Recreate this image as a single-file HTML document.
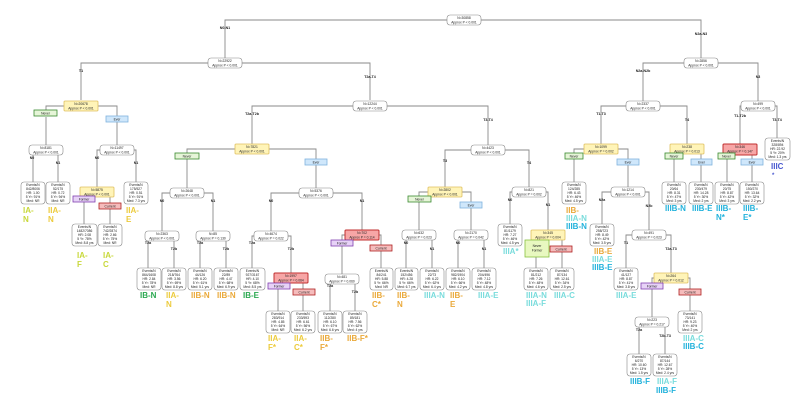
<!DOCTYPE html>
<html><head><meta charset="utf-8"><style>
html,body{margin:0;padding:0;background:#fff}
svg{display:block}
text{font-family:"Liberation Sans",sans-serif;fill:#222}
.e{fill:none;stroke:#8a8a8a;stroke-width:0.9}
.n{fill:#fff;stroke:#888;stroke-width:0.6}
.y{fill:#fff4b8;stroke:#e0c060;stroke-width:0.8}
.r{fill:#f7a6a6;stroke:#c03030;stroke-width:1}
.g{fill:#e6f5d8;stroke:#3a8a30;stroke-width:0.8}
.b{fill:#cfe7fb;stroke:#80b4de;stroke-width:0.8}
.p{fill:#e7d2f7;stroke:#8040b0;stroke-width:0.8}
.c{fill:#f5bcbc;stroke:#b02020;stroke-width:0.8}
.t{font-size:3.3px;text-anchor:middle}
.el{font-size:3.6px;font-weight:bold;text-anchor:middle}
.s{font-size:8px;font-weight:bold}
.IA{fill:#c8d83a}.IIA{fill:#eccb3c}.IIB{fill:#eaa93a}.IB{fill:#2aa850}.IIIA{fill:#79dcdc}.IIIB{fill:#22b2dc}.IIIC{fill:#4a5ad0}
</style></head><body>
<svg width="800" height="400" viewBox="0 0 800 400" xmlns="http://www.w3.org/2000/svg">
<!-- edges -->
<g class="e">
<path d="M225 58V20H701V58"/>
<path d="M81 100V63H370V100"/>
<path d="M46 110V106H117V116M46 117V145M117 122V145"/>
<path d="M33 182V150H58V182"/>
<path d="M97 187V150H136V182"/>
<path d="M84 224V192H110V224"/>
<path d="M252 144V106H488V145"/>
<path d="M187 188V149H316V188"/>
<path d="M162 231V193H213V231"/>
<path d="M148 268V235H174V268"/>
<path d="M200 268V236H226V268"/>
<path d="M271 231V193H362V230"/>
<path d="M252 268V236H291V273"/>
<path d="M278 311V278H303V311"/>
<path d="M342 274V235H381V268"/>
<path d="M330 311V278H355V311"/>
<path d="M445 187V150H529V187"/>
<path d="M419 231V192H471V231"/>
<path d="M406 268V235H432V268"/>
<path d="M458 268V235H484V268"/>
<path d="M510 224V192H548V231"/>
<path d="M536 268V235H562V268"/>
<path d="M643 101V63H758V101"/>
<path d="M601 144V106H687V144"/>
<path d="M574 182V149H628V187"/>
<path d="M602 224V192H649V230"/>
<path d="M626 268V235H671V273"/>
<path d="M652 317V278H690V311"/>
<path d="M639 354V322H665V354"/>
<path d="M674 182V149H701V182"/>
<path d="M740 144V106H777V138"/>
<path d="M727 182V149H752V182"/>
</g>
<!-- edge labels -->
<g class="el">
<text x="225" y="29">N0-N1</text><text x="701" y="35">N2a-N3</text>
<text x="81" y="72">T1</text><text x="370" y="78">T2a-T4</text>
<text x="32" y="159">N0</text><text x="58" y="164">N1</text>
<text x="97" y="159">N0</text><text x="136" y="164">N1</text>
<text x="252" y="115">T2a-T2b</text><text x="488" y="121">T3-T4</text>
<text x="162" y="202">N0</text><text x="213" y="202">N1</text>
<text x="148" y="244">T2a</text><text x="174" y="250">T2b</text>
<text x="200" y="244">T2a</text><text x="226" y="250">T2b</text>
<text x="271" y="202">N0</text><text x="362" y="202">N1</text>
<text x="252" y="244">T2a</text><text x="291" y="250">T2b</text>
<text x="330" y="287">T2a</text><text x="355" y="293">T2b</text>
<text x="445" y="162">T3</text><text x="529" y="164">T4</text>
<text x="406" y="244">N0</text><text x="432" y="250">N1</text>
<text x="458" y="244">N0</text><text x="484" y="250">N1</text>
<text x="510" y="201">N0</text><text x="548" y="206">N1</text>
<text x="643" y="72">N2a-N2b</text><text x="758" y="78">N3</text>
<text x="601" y="115">T1-T3</text><text x="687" y="121">T4</text>
<text x="602" y="201">N2a</text><text x="649" y="207">N2b</text>
<text x="626" y="244">T1</text><text x="671" y="250">T2a-T3</text>
<text x="639" y="331">T2a</text><text x="665" y="337">T2b-T3</text>
<text x="740" y="117">T1-T2b</text><text x="777" y="121">T3-T4</text>
</g>
<!-- internal nodes -->
<g>
<rect class="n" x="447" y="15" width="34" height="10" rx="3"/><text class="t" x="464" y="19">N=30858</text><text class="t" x="464" y="23.3">Approx P &lt; 0.001</text>
<rect class="n" x="208" y="58" width="34" height="10" rx="3"/><text class="t" x="225" y="62">N=22922</text><text class="t" x="225" y="66.3">Approx P &lt; 0.001</text>
<rect class="y" x="64" y="101" width="34" height="10" rx="1"/><text class="t" x="81" y="105">N=20678</text><text class="t" x="81" y="109.3">Approx P &lt; 0.001</text>
<rect class="n" x="29" y="145" width="34" height="10" rx="3"/><text class="t" x="46" y="149">N=8181</text><text class="t" x="46" y="153.3">Approx P &lt; 0.001</text>
<rect class="n" x="100" y="145" width="34" height="10" rx="3"/><text class="t" x="117" y="149">N=11497</text><text class="t" x="117" y="153.3">Approx P &lt; 0.001</text>
<rect class="y" x="80" y="187" width="34" height="10" rx="1"/><text class="t" x="97" y="191">N=5875</text><text class="t" x="97" y="195.3">Approx P &lt; 0.001</text>
<rect class="n" x="353" y="101" width="34" height="10" rx="3"/><text class="t" x="370" y="105">N=12244</text><text class="t" x="370" y="109.3">Approx P &lt; 0.001</text>
<rect class="y" x="235" y="144" width="34" height="10" rx="1"/><text class="t" x="252" y="148">N=7821</text><text class="t" x="252" y="152.3">Approx P &lt; 0.001</text>
<rect class="n" x="170" y="188" width="34" height="10" rx="3"/><text class="t" x="187" y="192">N=2648</text><text class="t" x="187" y="196.3">Approx P &lt; 0.001</text>
<rect class="n" x="299" y="188" width="34" height="10" rx="3"/><text class="t" x="316" y="192">N=5376</text><text class="t" x="316" y="196.3">Approx P &lt; 0.001</text>
<rect class="n" x="145" y="231" width="34" height="10" rx="3"/><text class="t" x="162" y="235">N=2363</text><text class="t" x="162" y="239.3">Approx P &lt; 0.001</text>
<rect class="n" x="196" y="231" width="34" height="10" rx="3"/><text class="t" x="213" y="235">N=85</text><text class="t" x="213" y="239.3">Approx P = 0.130</text>
<rect class="n" x="254" y="231" width="34" height="10" rx="3"/><text class="t" x="271" y="235">N=4674</text><text class="t" x="271" y="239.3">Approx P = 0.022</text>
<rect class="r" x="345" y="230" width="34" height="10" rx="1"/><text class="t" x="362" y="234">N=702</text><text class="t" x="362" y="238.3">Approx P = 0.114</text>
<rect class="r" x="274" y="273" width="34" height="10" rx="1"/><text class="t" x="291" y="277">N=1997</text><text class="t" x="291" y="281.3">Approx P = 0.064</text>
<rect class="n" x="325" y="274" width="34" height="10" rx="3"/><text class="t" x="342" y="278">N=481</text><text class="t" x="342" y="282.3">Approx P = 0.060</text>
<rect class="n" x="471" y="145" width="34" height="10" rx="3"/><text class="t" x="488" y="149">N=4423</text><text class="t" x="488" y="153.3">Approx P &lt; 0.001</text>
<rect class="y" x="428" y="187" width="34" height="10" rx="1"/><text class="t" x="445" y="191">N=2802</text><text class="t" x="445" y="195.3">Approx P &lt; 0.001</text>
<rect class="n" x="512" y="187" width="34" height="10" rx="3"/><text class="t" x="529" y="191">N=821</text><text class="t" x="529" y="195.3">Approx P = 0.002</text>
<rect class="n" x="402" y="230" width="34" height="10" rx="3"/><text class="t" x="419" y="234">N=632</text><text class="t" x="419" y="238.3">Approx P = 0.023</text>
<rect class="n" x="454" y="230" width="34" height="10" rx="3"/><text class="t" x="471" y="234">N=2170</text><text class="t" x="471" y="238.3">Approx P = 0.042</text>
<rect class="y" x="531" y="230" width="34" height="10" rx="1"/><text class="t" x="548" y="234">N=345</text><text class="t" x="548" y="238.3">Approx P = 0.004</text>
<rect class="n" x="684" y="58" width="34" height="10" rx="3"/><text class="t" x="701" y="62">N=2856</text><text class="t" x="701" y="66.3">Approx P &lt; 0.001</text>
<rect class="n" x="626" y="101" width="34" height="10" rx="3"/><text class="t" x="643" y="105">N=2337</text><text class="t" x="643" y="109.3">Approx P &lt; 0.001</text>
<rect class="n" x="741" y="101" width="34" height="10" rx="3"/><text class="t" x="758" y="105">N=499</text><text class="t" x="758" y="109.3">Approx P &lt; 0.001</text>
<rect class="y" x="584" y="144" width="34" height="10" rx="1"/><text class="t" x="601" y="148">N=1099</text><text class="t" x="601" y="152.3">Approx P = 0.002</text>
<rect class="y" x="670" y="144" width="34" height="10" rx="1"/><text class="t" x="687" y="148">N=238</text><text class="t" x="687" y="152.3">Approx P = 0.013</text>
<rect class="r" x="723" y="144" width="34" height="11" rx="1"/><text class="t" x="740" y="148">N=346</text><text class="t" x="740" y="152.3">Approx P = 0.147</text>
<rect class="n" x="611" y="187" width="34" height="10" rx="3"/><text class="t" x="628" y="191">N=1214</text><text class="t" x="628" y="195.3">Approx P &lt; 0.001</text>
<rect class="n" x="632" y="230" width="34" height="10" rx="3"/><text class="t" x="649" y="234">N=491</text><text class="t" x="649" y="238.3">Approx P = 0.023</text>
<rect class="y" x="654" y="273" width="34" height="10" rx="1"/><text class="t" x="671" y="277">N=264</text><text class="t" x="671" y="281.3">Approx P = 0.012</text>
<rect class="n" x="635" y="317" width="34" height="10" rx="3"/><text class="t" x="652" y="321">N=223</text><text class="t" x="652" y="325.3">Approx P = 0.217</text>
</g>
<!-- tags -->
<g>
<rect class="g" x="34" y="110" width="23" height="6"/><text class="t" x="45.5" y="114.3">Never</text>
<rect class="b" x="106" y="116" width="22" height="6"/><text class="t" x="117" y="120.3">Ever</text>
<rect class="p" x="73" y="196" width="22" height="6"/><text class="t" x="84" y="200.3">Former</text>
<rect class="c" x="99" y="203" width="22" height="6"/><text class="t" x="110" y="207.3">Current</text>
<rect class="g" x="175" y="153" width="24" height="6"/><text class="t" x="187" y="157.3">Never</text>
<rect class="b" x="305" y="159" width="22" height="6"/><text class="t" x="316" y="163.3">Ever</text>
<rect class="p" x="268" y="283" width="22" height="6"/><text class="t" x="279" y="287.3">Former</text>
<rect class="c" x="293" y="289" width="22" height="6"/><text class="t" x="304" y="293.3">Current</text>
<rect class="p" x="331" y="240" width="22" height="6"/><text class="t" x="342" y="244.3">Former</text>
<rect class="c" x="370" y="245" width="22" height="6"/><text class="t" x="381" y="249.3">Current</text>
<rect class="g" x="408" y="196" width="23" height="6"/><text class="t" x="419.5" y="200.3">Never</text>
<rect class="b" x="460" y="202" width="22" height="6"/><text class="t" x="471" y="206.3">Ever</text>
<rect class="g" x="525" y="240" width="24" height="17" style="fill:#e8f8c0;stroke:#88c040"/><text class="t" x="537" y="247">Never</text><text class="t" x="537" y="251.5">Former</text>
<rect class="c" x="550" y="246" width="22" height="6"/><text class="t" x="561" y="250.3">Current</text>
<rect class="g" x="565" y="153" width="18" height="6"/><text class="t" x="574" y="157.3">Never</text>
<rect class="b" x="617" y="159" width="22" height="6"/><text class="t" x="628" y="163.3">Ever</text>
<rect class="g" x="665" y="153" width="18" height="6"/><text class="t" x="674" y="157.3">Never</text>
<rect class="b" x="691" y="159" width="21" height="6"/><text class="t" x="701.5" y="163.3">Ever</text>
<rect class="g" x="718" y="153" width="17" height="6"/><text class="t" x="726.5" y="157.3">Never</text>
<rect class="b" x="741" y="159" width="22" height="6"/><text class="t" x="752" y="163.3">Ever</text>
<rect class="p" x="641" y="283" width="22" height="6"/><text class="t" x="652" y="287.3">Former</text>
<rect class="c" x="679" y="289" width="22" height="6"/><text class="t" x="690" y="293.3">Current</text>
</g>
<!-- leaves -->
<g>
<rect class="n" x="21" y="182" width="24" height="22" rx="3"/><text class="t" x="33" y="186">Events/N</text><text class="t" x="33" y="190">842/8006</text><text class="t" x="33" y="194">HR: 1.00</text><text class="t" x="33" y="198">5 Yr: 91%</text><text class="t" x="33" y="202">Med: NR</text>
<rect class="n" x="46" y="182" width="24" height="22" rx="3"/><text class="t" x="58" y="186">Events/N</text><text class="t" x="58" y="190">52/175</text><text class="t" x="58" y="194">HR: 0.72</text><text class="t" x="58" y="198">5 Yr: 94%</text><text class="t" x="58" y="202">Med: NR</text>
<rect class="n" x="124" y="182" width="24" height="22" rx="3"/><text class="t" x="136" y="186">Events/N</text><text class="t" x="136" y="190">175/527</text><text class="t" x="136" y="194">HR: 0.51</text><text class="t" x="136" y="198">5 Yr: 91%</text><text class="t" x="136" y="202">Med: 7.3 yrs</text>
<rect class="n" x="72" y="224" width="25" height="22" rx="3"/><text class="t" x="84.5" y="228">Events/N</text><text class="t" x="84.5" y="232">1482/7086</text><text class="t" x="84.5" y="236">HR: 2.08</text><text class="t" x="84.5" y="240">5 Yr: 78%</text><text class="t" x="84.5" y="244">Med: 8.8 yrs</text>
<rect class="n" x="98" y="224" width="24" height="22" rx="3"/><text class="t" x="110" y="228">Events/N</text><text class="t" x="110" y="232">742/2874</text><text class="t" x="110" y="236">HR: 2.66</text><text class="t" x="110" y="240">5 Yr: 75%</text><text class="t" x="110" y="244">Med: NR</text>
<rect class="n" x="137" y="268" width="24" height="22" rx="3"/><text class="t" x="149" y="272">Events/N</text><text class="t" x="149" y="276">864/1608</text><text class="t" x="149" y="280">HR: 2.84</text><text class="t" x="149" y="284">5 Yr: 78%</text><text class="t" x="149" y="288">Med: NR</text>
<rect class="n" x="162" y="268" width="24" height="22" rx="3"/><text class="t" x="174" y="272">Events/N</text><text class="t" x="174" y="276">218/764</text><text class="t" x="174" y="280">HR: 3.56</text><text class="t" x="174" y="284">5 Yr: 69%</text><text class="t" x="174" y="288">Med: 8.8 yrs</text>
<rect class="n" x="188" y="268" width="24" height="22" rx="3"/><text class="t" x="200" y="272">Events/N</text><text class="t" x="200" y="276">44/126</text><text class="t" x="200" y="280">HR: 6.20</text><text class="t" x="200" y="284">5 Yr: 61%</text><text class="t" x="200" y="288">Med: 5.1 yrs</text>
<rect class="n" x="214" y="268" width="24" height="22" rx="3"/><text class="t" x="226" y="272">Events/N</text><text class="t" x="226" y="276">22/89</text><text class="t" x="226" y="280">HR: 4.47</text><text class="t" x="226" y="284">5 Yr: 68%</text><text class="t" x="226" y="288">Med: 6.9 yrs</text>
<rect class="n" x="240" y="268" width="25" height="22" rx="3"/><text class="t" x="252.5" y="272">Events/N</text><text class="t" x="252.5" y="276">927/3167</text><text class="t" x="252.5" y="280">HR: 4.10</text><text class="t" x="252.5" y="284">5 Yr: 68%</text><text class="t" x="252.5" y="288">Med: 8.5 yrs</text>
<rect class="n" x="266" y="311" width="24" height="22" rx="3"/><text class="t" x="278" y="315">Events/N</text><text class="t" x="278" y="319">283/914</text><text class="t" x="278" y="323">HR: 4.85</text><text class="t" x="278" y="327">5 Yr: 64%</text><text class="t" x="278" y="331">Med: NR</text>
<rect class="n" x="291" y="311" width="24" height="22" rx="3"/><text class="t" x="303" y="315">Events/N</text><text class="t" x="303" y="319">233/593</text><text class="t" x="303" y="323">HR: 6.61</text><text class="t" x="303" y="327">5 Yr: 56%</text><text class="t" x="303" y="331">Med: 6.2 yrs</text>
<rect class="n" x="318" y="311" width="24" height="22" rx="3"/><text class="t" x="330" y="315">Events/N</text><text class="t" x="330" y="319">112/280</text><text class="t" x="330" y="323">HR: 6.10</text><text class="t" x="330" y="327">5 Yr: 67%</text><text class="t" x="330" y="331">Med: 6.6 yrs</text>
<rect class="n" x="343" y="311" width="24" height="22" rx="3"/><text class="t" x="355" y="315">Events/N</text><text class="t" x="355" y="319">89/181</text><text class="t" x="355" y="323">HR: 7.56</text><text class="t" x="355" y="327">5 Yr: 62%</text><text class="t" x="355" y="331">Med: 4 yrs</text>
<rect class="n" x="370" y="268" width="23" height="22" rx="3"/><text class="t" x="381.5" y="272">Events/N</text><text class="t" x="381.5" y="276">84/241</text><text class="t" x="381.5" y="280">HR: 5.88</text><text class="t" x="381.5" y="284">5 Yr: 66%</text><text class="t" x="381.5" y="288">Med: NR</text>
<rect class="n" x="395" y="268" width="23" height="22" rx="3"/><text class="t" x="406.5" y="272">Events/N</text><text class="t" x="406.5" y="276">152/456</text><text class="t" x="406.5" y="280">HR: 4.28</text><text class="t" x="406.5" y="284">5 Yr: 66%</text><text class="t" x="406.5" y="288">Med: 6.7 yrs</text>
<rect class="n" x="420" y="268" width="24" height="22" rx="3"/><text class="t" x="432" y="272">Events/N</text><text class="t" x="432" y="276">22/73</text><text class="t" x="432" y="280">HR: 6.22</text><text class="t" x="432" y="284">5 Yr: 62%</text><text class="t" x="432" y="288">Med: 6.4 yrs</text>
<rect class="n" x="446" y="268" width="24" height="22" rx="3"/><text class="t" x="458" y="272">Events/N</text><text class="t" x="458" y="276">982/1904</text><text class="t" x="458" y="280">HR: 6.10</text><text class="t" x="458" y="284">5 Yr: 66%</text><text class="t" x="458" y="288">Med: 4.2 yrs</text>
<rect class="n" x="472" y="268" width="24" height="22" rx="3"/><text class="t" x="484" y="272">Events/N</text><text class="t" x="484" y="276">204/496</text><text class="t" x="484" y="280">HR: 7.12</text><text class="t" x="484" y="284">5 Yr: 48%</text><text class="t" x="484" y="288">Med: 4.8 yrs</text>
<rect class="n" x="498" y="224" width="24" height="22" rx="3"/><text class="t" x="510" y="228">Events/N</text><text class="t" x="510" y="232">81/1179</text><text class="t" x="510" y="236">HR: 7.27</text><text class="t" x="510" y="240">5 Yr: 46%</text><text class="t" x="510" y="244">Med: 4.5 yrs</text>
<rect class="n" x="524" y="268" width="24" height="22" rx="3"/><text class="t" x="536" y="272">Events/N</text><text class="t" x="536" y="276">81/212</text><text class="t" x="536" y="280">HR: 7.26</text><text class="t" x="536" y="284">5 Yr: 48%</text><text class="t" x="536" y="288">Med: 4.6 yrs</text>
<rect class="n" x="550" y="268" width="24" height="22" rx="3"/><text class="t" x="562" y="272">Events/N</text><text class="t" x="562" y="276">87/134</text><text class="t" x="562" y="280">HR: 12.61</text><text class="t" x="562" y="284">5 Yr: 34%</text><text class="t" x="562" y="288">Med: 2.5 yrs</text>
<rect class="n" x="562" y="182" width="24" height="22" rx="3"/><text class="t" x="574" y="186">Events/N</text><text class="t" x="574" y="190">124/285</text><text class="t" x="574" y="194">HR: 6.43</text><text class="t" x="574" y="198">5 Yr: 46%</text><text class="t" x="574" y="202">Med: 4.5 yrs</text>
<rect class="n" x="590" y="224" width="24" height="22" rx="3"/><text class="t" x="602" y="228">Events/N</text><text class="t" x="602" y="232">258/723</text><text class="t" x="602" y="236">HR: 8.49</text><text class="t" x="602" y="240">5 Yr: 42%</text><text class="t" x="602" y="244">Med: 3.5 yrs</text>
<rect class="n" x="614" y="268" width="24" height="22" rx="3"/><text class="t" x="626" y="272">Events/N</text><text class="t" x="626" y="276">41/127</text><text class="t" x="626" y="280">HR: 8.87</text><text class="t" x="626" y="284">5 Yr: 41%</text><text class="t" x="626" y="288">Med: 3.8 yrs</text>
<rect class="n" x="678" y="311" width="24" height="22" rx="3"/><text class="t" x="690" y="315">Events/N</text><text class="t" x="690" y="319">73/141</text><text class="t" x="690" y="323">HR: 9.23</text><text class="t" x="690" y="327">5 Yr: 40%</text><text class="t" x="690" y="331">Med: 2 yrs</text>
<rect class="n" x="627" y="354" width="24" height="22" rx="3"/><text class="t" x="639" y="358">Events/N</text><text class="t" x="639" y="362">6/270</text><text class="t" x="639" y="366">HR: 10.60</text><text class="t" x="639" y="370">5 Yr: 13%</text><text class="t" x="639" y="374">Med: 1.5 yrs</text>
<rect class="n" x="653" y="354" width="24" height="22" rx="3"/><text class="t" x="665" y="358">Events/N</text><text class="t" x="665" y="362">87/144</text><text class="t" x="665" y="366">HR: 12.67</text><text class="t" x="665" y="370">5 Yr: 28%</text><text class="t" x="665" y="374">Med: 2.4 yrs</text>
<rect class="n" x="662" y="182" width="24" height="22" rx="3"/><text class="t" x="674" y="186">Events/N</text><text class="t" x="674" y="190">20/64</text><text class="t" x="674" y="194">HR: 8.31</text><text class="t" x="674" y="198">5 Yr: 47%</text><text class="t" x="674" y="202">Med: 3 yrs</text>
<rect class="n" x="689" y="182" width="24" height="22" rx="3"/><text class="t" x="701" y="186">Events/N</text><text class="t" x="701" y="190">230/479</text><text class="t" x="701" y="194">HR: 14.28</text><text class="t" x="701" y="198">5 Yr: 30%</text><text class="t" x="701" y="202">Med: 2 yrs</text>
<rect class="n" x="715" y="182" width="24" height="22" rx="3"/><text class="t" x="727" y="186">Events/N</text><text class="t" x="727" y="190">20/75</text><text class="t" x="727" y="194">HR: 8.87</text><text class="t" x="727" y="198">5 Yr: 42%</text><text class="t" x="727" y="202">Med: 3 yrs</text>
<rect class="n" x="740" y="182" width="24" height="22" rx="3"/><text class="t" x="752" y="186">Events/N</text><text class="t" x="752" y="190">150/270</text><text class="t" x="752" y="194">HR: 13.64</text><text class="t" x="752" y="198">5 Yr: 32%</text><text class="t" x="752" y="202">Med: 2.2 yrs</text>
<rect class="n" x="765" y="138" width="25" height="22" rx="3"/><text class="t" x="777.5" y="142">Events/N</text><text class="t" x="777.5" y="146">328/894</text><text class="t" x="777.5" y="150">HR: 22.92</text><text class="t" x="777.5" y="154">5 Yr: 20%</text><text class="t" x="777.5" y="158">Med: 1.3 yrs</text>
</g>
<!-- stage labels -->
<g class="s">
<text class="IA" x="23" y="213">IA-</text><text class="IA" x="23" y="222">N</text>
<text class="IIA" x="48" y="213">IIA-</text><text class="IIA" x="48" y="222">N</text>
<text class="IIA" x="126" y="213">IIA-</text><text class="IIA" x="126" y="222">E</text>
<text class="IA" x="77" y="258">IA-</text><text class="IA" x="77" y="267">F</text>
<text class="IA" x="103" y="258">IA-</text><text class="IA" x="103" y="267">C</text>
<text class="IB" x="140" y="298">IB-N</text>
<text class="IIA" x="166" y="298">IIA-</text><text class="IIA" x="166" y="307">N</text>
<text class="IIB" x="191" y="298">IIB-N</text>
<text class="IIB" x="217" y="298">IIB-N</text>
<text class="IB" x="243" y="298">IB-E</text>
<text class="IIA" x="268" y="341">IIA-</text><text class="IIA" x="268" y="350">F*</text>
<text class="IIA" x="294" y="341">IIA-</text><text class="IIA" x="294" y="350">C*</text>
<text class="IIB" x="320" y="341">IIB-</text><text class="IIB" x="320" y="350">F*</text>
<text class="IIB" x="347" y="341">IIB-F*</text>
<text class="IIB" x="372" y="298">IIB-</text><text class="IIB" x="372" y="307">C*</text>
<text class="IIB" x="397" y="298">IIB-</text><text class="IIB" x="397" y="307">N</text>
<text class="IIIA" x="424" y="298">IIIA-N</text>
<text class="IIB" x="450" y="298">IIB-</text><text class="IIB" x="450" y="307">E</text>
<text class="IIIA" x="478" y="298">IIIA-E</text>
<text class="IIIA" x="503" y="254">IIIA*</text>
<text class="IIIA" x="526" y="298">IIIA-N</text><text class="IIIA" x="526" y="306">IIIA-F</text>
<text class="IIIA" x="554" y="298">IIIA-C</text>
<text class="IIB" x="566" y="213">IIB-</text><text class="IIIA" x="566" y="221">IIIA-N</text><text class="IIIB" x="566" y="229">IIIB-N</text>
<text class="IIB" x="594" y="254">IIB-E</text><text class="IIIA" x="592" y="262">IIIA-E</text><text class="IIIB" x="592" y="270">IIIB-E</text>
<text class="IIIA" x="616" y="298">IIIA-E</text>
<text class="IIIA" x="683" y="341">IIIA-C</text><text class="IIIB" x="683" y="349">IIIB-C</text>
<text class="IIIB" x="630" y="384">IIIB-F</text>
<text class="IIIA" x="657" y="384">IIIA-F</text><text class="IIIB" x="656" y="393">IIIB-F</text>
<text class="IIIB" x="665" y="211">IIIB-N</text>
<text class="IIIB" x="692" y="211">IIIB-E</text>
<text class="IIIB" x="716" y="211">IIIB-</text><text class="IIIB" x="716" y="220">N*</text>
<text class="IIIB" x="743" y="211">IIIB-</text><text class="IIIB" x="743" y="220">E*</text>
<text class="IIIC" x="771" y="169">IIIC</text><text class="IIIC" x="772" y="177" style="font-size:6px">*</text>
</g>
</svg>
</body></html>
